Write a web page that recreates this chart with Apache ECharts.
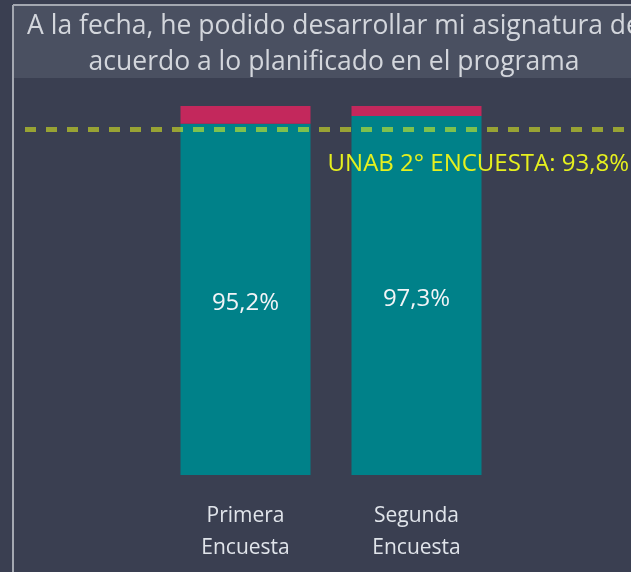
<!DOCTYPE html>
<html>
<head>
<meta charset="utf-8">
<script src="https://cdn.jsdelivr.net/npm/echarts@6/dist/echarts.min.js"></script>
<style>
  html, body { margin: 0; padding: 0; background: #3a3f51; }
  #chart { width: 631px; height: 572px; }
</style>
</head>
<body>
<div id="chart"></div>
<script>
// datos del gráfico
const categories = ['Primera\nEncuesta', 'Segunda\nEncuesta']
const acuerdo = [95.2, 97.3]
const resto = [4.8, 2.7]
const referencia = 93.8
const tituloTexto = 'A la fecha, he podido desarrollar mi asignatura de\nacuerdo a lo planificado en el programa'
const refTexto = 'UNAB 2° ENCUESTA: 93,8%'

const FONT = '"Open Sans", "Noto Sans", sans-serif'

const chart = echarts.init(document.getElementById('chart'))
chart.setOption({
  backgroundColor: '#3a3f51',
  animation: false,
  graphic: [
    {
      type: 'rect',
      shape: { x: 13, y: 5, width: 640, height: 73 },
      style: { fill: '#4a5061' },
      z: 0
    },
    {
      type: 'line',
      shape: { x1: 13, y1: 5, x2: 640, y2: 5 },
      style: { stroke: '#a4a8b1', lineWidth: 2 },
      z: 1
    },
    {
      type: 'line',
      shape: { x1: 13, y1: 5, x2: 13, y2: 572 },
      style: { stroke: '#a4a8b1', lineWidth: 2 },
      z: 1
    },
    {
      type: 'text',
      x: 334,
      y: 8,
      style: {
        text: tituloTexto,
        textAlign: 'center',
        fill: '#d3d6dc',
        fontSize: 26.5,
        fontFamily: FONT,
        lineHeight: 36
      },
      z: 2
    }
  ],
  grid: [
    { left: 160, width: 342, top: 106, bottom: 97 },
    { left: 25, right: 0, top: 106, bottom: 97 }
  ],
  xAxis: [
    {
      type: 'category',
      gridIndex: 0,
      data: categories,
      axisLine: { show: false },
      axisTick: { show: false },
      axisLabel: {
        color: '#e0e4ea',
        fontSize: 21,
        fontFamily: FONT,
        lineHeight: 32,
        margin: 25
      }
    },
    { type: 'category', gridIndex: 1, data: ['a'], show: false }
  ],
  yAxis: [
    { type: 'value', gridIndex: 0, min: 0, max: 100, show: false },
    { type: 'value', gridIndex: 1, min: 0, max: 100, show: false }
  ],
  series: [
    {
      name: 'Acuerdo',
      type: 'bar',
      stack: 'total',
      barWidth: 130,
      data: acuerdo,
      itemStyle: { color: '#008189' },
      label: {
        show: true,
        position: 'inside',
        offset: [0, 4],
        color: '#f2f4f7',
        fontSize: 24,
        fontFamily: FONT,
        formatter: p => p.value.toFixed(1).replace('.', ',') + '%'
      }
    },
    {
      name: 'Resto',
      type: 'bar',
      stack: 'total',
      barWidth: 130,
      data: resto,
      itemStyle: { color: '#c3285c' }
    },
    {
      name: 'Referencia',
      type: 'line',
      xAxisIndex: 1,
      yAxisIndex: 1,
      data: [],
      z: 5,
      markLine: {
        silent: true,
        symbol: 'none',
        lineStyle: {
          color: 'rgba(230,245,30,0.55)',
          type: [11, 10],
          width: 5
        },
        label: {
          show: true,
          position: 'insideEndBottom',
          distance: [2, 23],
          color: '#e6f01e',
          fontSize: 24,
          fontFamily: FONT,
          formatter: refTexto
        },
        data: [{ yAxis: referencia }]
      }
    }
  ]
})
</script>
</body>
</html>
